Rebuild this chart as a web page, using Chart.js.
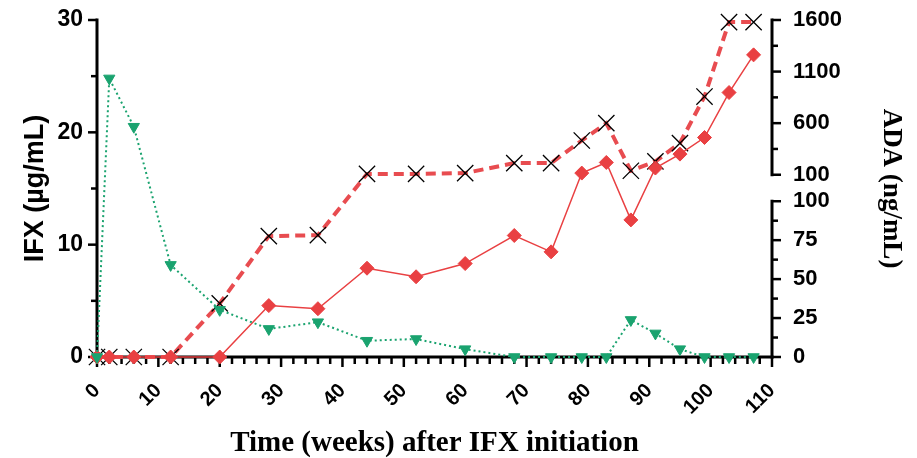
<!DOCTYPE html>
<html>
<head>
<meta charset="utf-8">
<script src="https://cdn.jsdelivr.net/npm/chart.js@4.4.0/dist/chart.umd.min.js"></script>
<style>
  html, body { margin: 0; padding: 0; background: #fff; }
  #wrap { width: 917px; height: 458px; }
</style>
</head>
<body>
<div id="wrap"><canvas id="chart" width="917" height="458"></canvas></div>
<script>
// Sampling times (weeks after IFX initiation)
const weeks = [0, 2, 6, 12, 20, 28, 36, 44, 52, 60, 68, 74, 79, 83, 87, 91, 95, 99, 103, 107];
// IFX trough level (ug/mL), left axis
const ifxLevel = [0, 24.8, 20.5, 8.2, 4.2, 2.5, 3.1, 1.45, 1.6, 0.7, 0, 0, 0, 0, 3.3, 2.1, 0.7, 0, 0, 0];
// ADA (ng/mL), right axis - diamonds
const adaDiamond = [0, 0, 0, 0, 0, 33, 31, 57, 51.5, 60, 78, 67.5, 116, 219, 88, 165, 300, 461, 897, 1262];
// ADA (ng/mL), right axis - crosses
const adaCross = [0, 0, 0, 0, 34.4, 77.6, 78.2, 108, 108, 116, 213, 213, 432, 600, 139, 229, 407, 858, 1580, 1580];

// tick labels
const weekTicks = [0, 10, 20, 30, 40, 50, 60, 70, 80, 90, 100, 110];
const ifxTicks = [0, 10, 20, 30];
const adaLowerTicks = [0, 25, 50, 75, 100];
const adaUpperTicks = [100, 600, 1100, 1600];

// broken right axis: 0-100 linear, then a gap, then 100-1600 compressed
const LOW_MAX = 100, GAP = 17, UPPER_PER_UNIT = 15.1;
function upperPos(v) { return LOW_MAX + GAP + (v - LOW_MAX) / UPPER_PER_UNIT; }
function adaPos(v) { return v <= LOW_MAX ? v : upperPos(v); }

const adaTickLabels = adaLowerTicks.concat(adaUpperTicks).map(String);

const RED = 'rgb(233, 64, 66)';
const RED_DASH = 'rgb(232, 76, 80)';
const GREEN = 'rgb(26, 163, 111)';

function toPoints(vals, fn) {
  return weeks.map((w, i) => ({ x: w, y: fn ? fn(vals[i]) : vals[i] }));
}

// keep the plot box fixed: no extra padding from the tick labels
function fixBox(size, vertical) {
  return s => {
    if (vertical) { s.width = size; s.paddingTop = 0; s.paddingBottom = 0; }
    else { s.height = size; s.paddingLeft = 0; s.paddingRight = 0; }
  };
}

// draws the axis lines, the break in the right axis and major/minor ticks
const axesPlugin = {
  id: 'axesPlugin',
  beforeDatasetsDraw(chart) {
    const { ctx, scales } = chart;
    const x = scales.x, y = scales.y, ya = scales.yADA;
    ctx.save();
    ctx.strokeStyle = '#000';
    ctx.lineCap = 'butt';
    function line(x1, y1, x2, y2, w) {
      ctx.lineWidth = w;
      ctx.beginPath();
      ctx.moveTo(x1, y1);
      ctx.lineTo(x2, y2);
      ctx.stroke();
    }
    const xl = x.left, xr = x.right, yb = y.bottom;

    // left axis
    line(xl, y.getPixelForValue(30) - 1.5, xl, yb + 1.5, 3);
    for (let v = 0; v <= 30; v += 5) {
      const p = y.getPixelForValue(v);
      line(xl, p, xl - (v % 10 === 0 ? 9 : 6), p, 2.5);
    }

    // bottom axis
    line(xl - 1.5, yb, xr + 1.5, yb, 3);
    for (let v = 0; v <= 110; v += 2) {
      const p = x.getPixelForValue(v);
      line(p, yb, p, yb + (v % 10 === 0 ? 10 : 7), 2.5);
    }

    // right axis, lower part
    line(xr, ya.getPixelForValue(LOW_MAX) - 1.5, xr, yb + 1.5, 3);
    for (let v = 0; v <= LOW_MAX; v += 12.5) {
      const p = ya.getPixelForValue(v);
      line(xr, p, xr + (v % 25 === 0 ? 9 : 6), p, 2.5);
    }
    // right axis, upper part
    line(xr, ya.getPixelForValue(upperPos(1600)) - 1.5, xr, ya.getPixelForValue(upperPos(100)) + 1.5, 3);
    for (let v = 100; v <= 1600; v += 250) {
      const p = ya.getPixelForValue(upperPos(v));
      line(xr, p, xr + ((v - 100) % 500 === 0 ? 9 : 6), p, 2.5);
    }
    ctx.restore();
  }
};

Chart.defaults.font.family = '"Liberation Sans", Arial, sans-serif';
Chart.defaults.color = '#000';

new Chart(document.getElementById('chart'), {
  type: 'line',
  data: {
    datasets: [
      {
        label: 'IFX',
        data: toPoints(ifxLevel),
        yAxisID: 'y',
        borderColor: GREEN,
        borderWidth: 2,
        borderDash: [2, 3],
        pointStyle: 'triangle',
        rotation: 180,
        pointRadius: 6.5,
        pointBackgroundColor: GREEN,
        pointBorderColor: GREEN,
        pointBorderWidth: 1,
        order: 0,
        clip: false
      },
      {
        label: 'ADA',
        data: toPoints(adaDiamond, adaPos),
        yAxisID: 'yADA',
        borderColor: RED,
        borderWidth: 1.5,
        pointStyle: 'rectRot',
        pointRadius: 7,
        pointBackgroundColor: RED,
        pointBorderColor: RED,
        pointBorderWidth: 1,
        order: 1,
        clip: false
      },
      {
        label: 'ADA (x)',
        data: toPoints(adaCross, adaPos),
        yAxisID: 'yADA',
        borderColor: RED_DASH,
        borderWidth: 4,
        borderDash: [10, 6],
        pointStyle: 'crossRot',
        pointRadius: 11.5,
        pointBorderColor: '#000',
        pointBorderWidth: 1.3,
        order: 2,
        clip: false
      }
    ]
  },
  options: {
    responsive: false,
    animation: false,
    layout: { padding: { top: 20, left: 0, right: 0, bottom: 0 } },
    plugins: { legend: { display: false }, tooltip: { enabled: false } },
    elements: { line: { tension: 0 } },
    scales: {
      x: {
        type: 'linear',
        min: 0,
        max: 110,
        grid: { display: false, drawTicks: false },
        border: { display: false },
        afterBuildTicks: s => { s.ticks = weekTicks.map(v => ({ value: v })); },
        afterFit: fixBox(101, false),
        ticks: {
          autoSkip: false,
          minRotation: 45,
          maxRotation: 45,
          padding: 22,
          font: { size: 20, weight: 'bold' }
        },
        title: {
          display: true,
          text: 'Time (weeks) after IFX initiation',
          font: { family: '"Liberation Serif", "Times New Roman", serif', size: 29, weight: 'bold', lineHeight: 1 },
          padding: { top: 0, bottom: 0 }
        }
      },
      y: {
        type: 'linear',
        position: 'left',
        min: 0,
        max: 30,
        grid: { display: false, drawTicks: false },
        border: { display: false },
        afterBuildTicks: s => { s.ticks = ifxTicks.map(v => ({ value: v })); },
        afterFit: fixBox(97, true),
        ticks: { autoSkip: false, padding: 14, font: { size: 23, weight: 'bold' } },
        title: {
          display: true,
          text: 'IFX (µg/mL)',
          font: { size: 27, weight: 'bold', lineHeight: 1 },
          padding: { top: 22, bottom: 0 }
        }
      },
      yADA: {
        type: 'linear',
        position: 'right',
        min: 0,
        max: upperPos(1600),
        grid: { display: false, drawTicks: false },
        border: { display: false },
        afterBuildTicks: s => {
          s.ticks = adaLowerTicks.map(v => ({ value: v }))
            .concat(adaUpperTicks.map(v => ({ value: upperPos(v) })));
        },
        afterFit: fixBox(145, true),
        ticks: {
          autoSkip: false,
          padding: 21,
          font: { size: 22, weight: 'bold' },
          callback: (val, i) => adaTickLabels[i]
        },
        title: {
          display: true,
          text: 'ADA (ng/mL)',
          font: { family: '"Liberation Serif", "Times New Roman", serif', size: 27, weight: 'bold', lineHeight: 1 },
          padding: { top: 12.5, bottom: 0 }
        }
      }
    }
  },
  plugins: [axesPlugin]
});
</script>
</body>
</html>
